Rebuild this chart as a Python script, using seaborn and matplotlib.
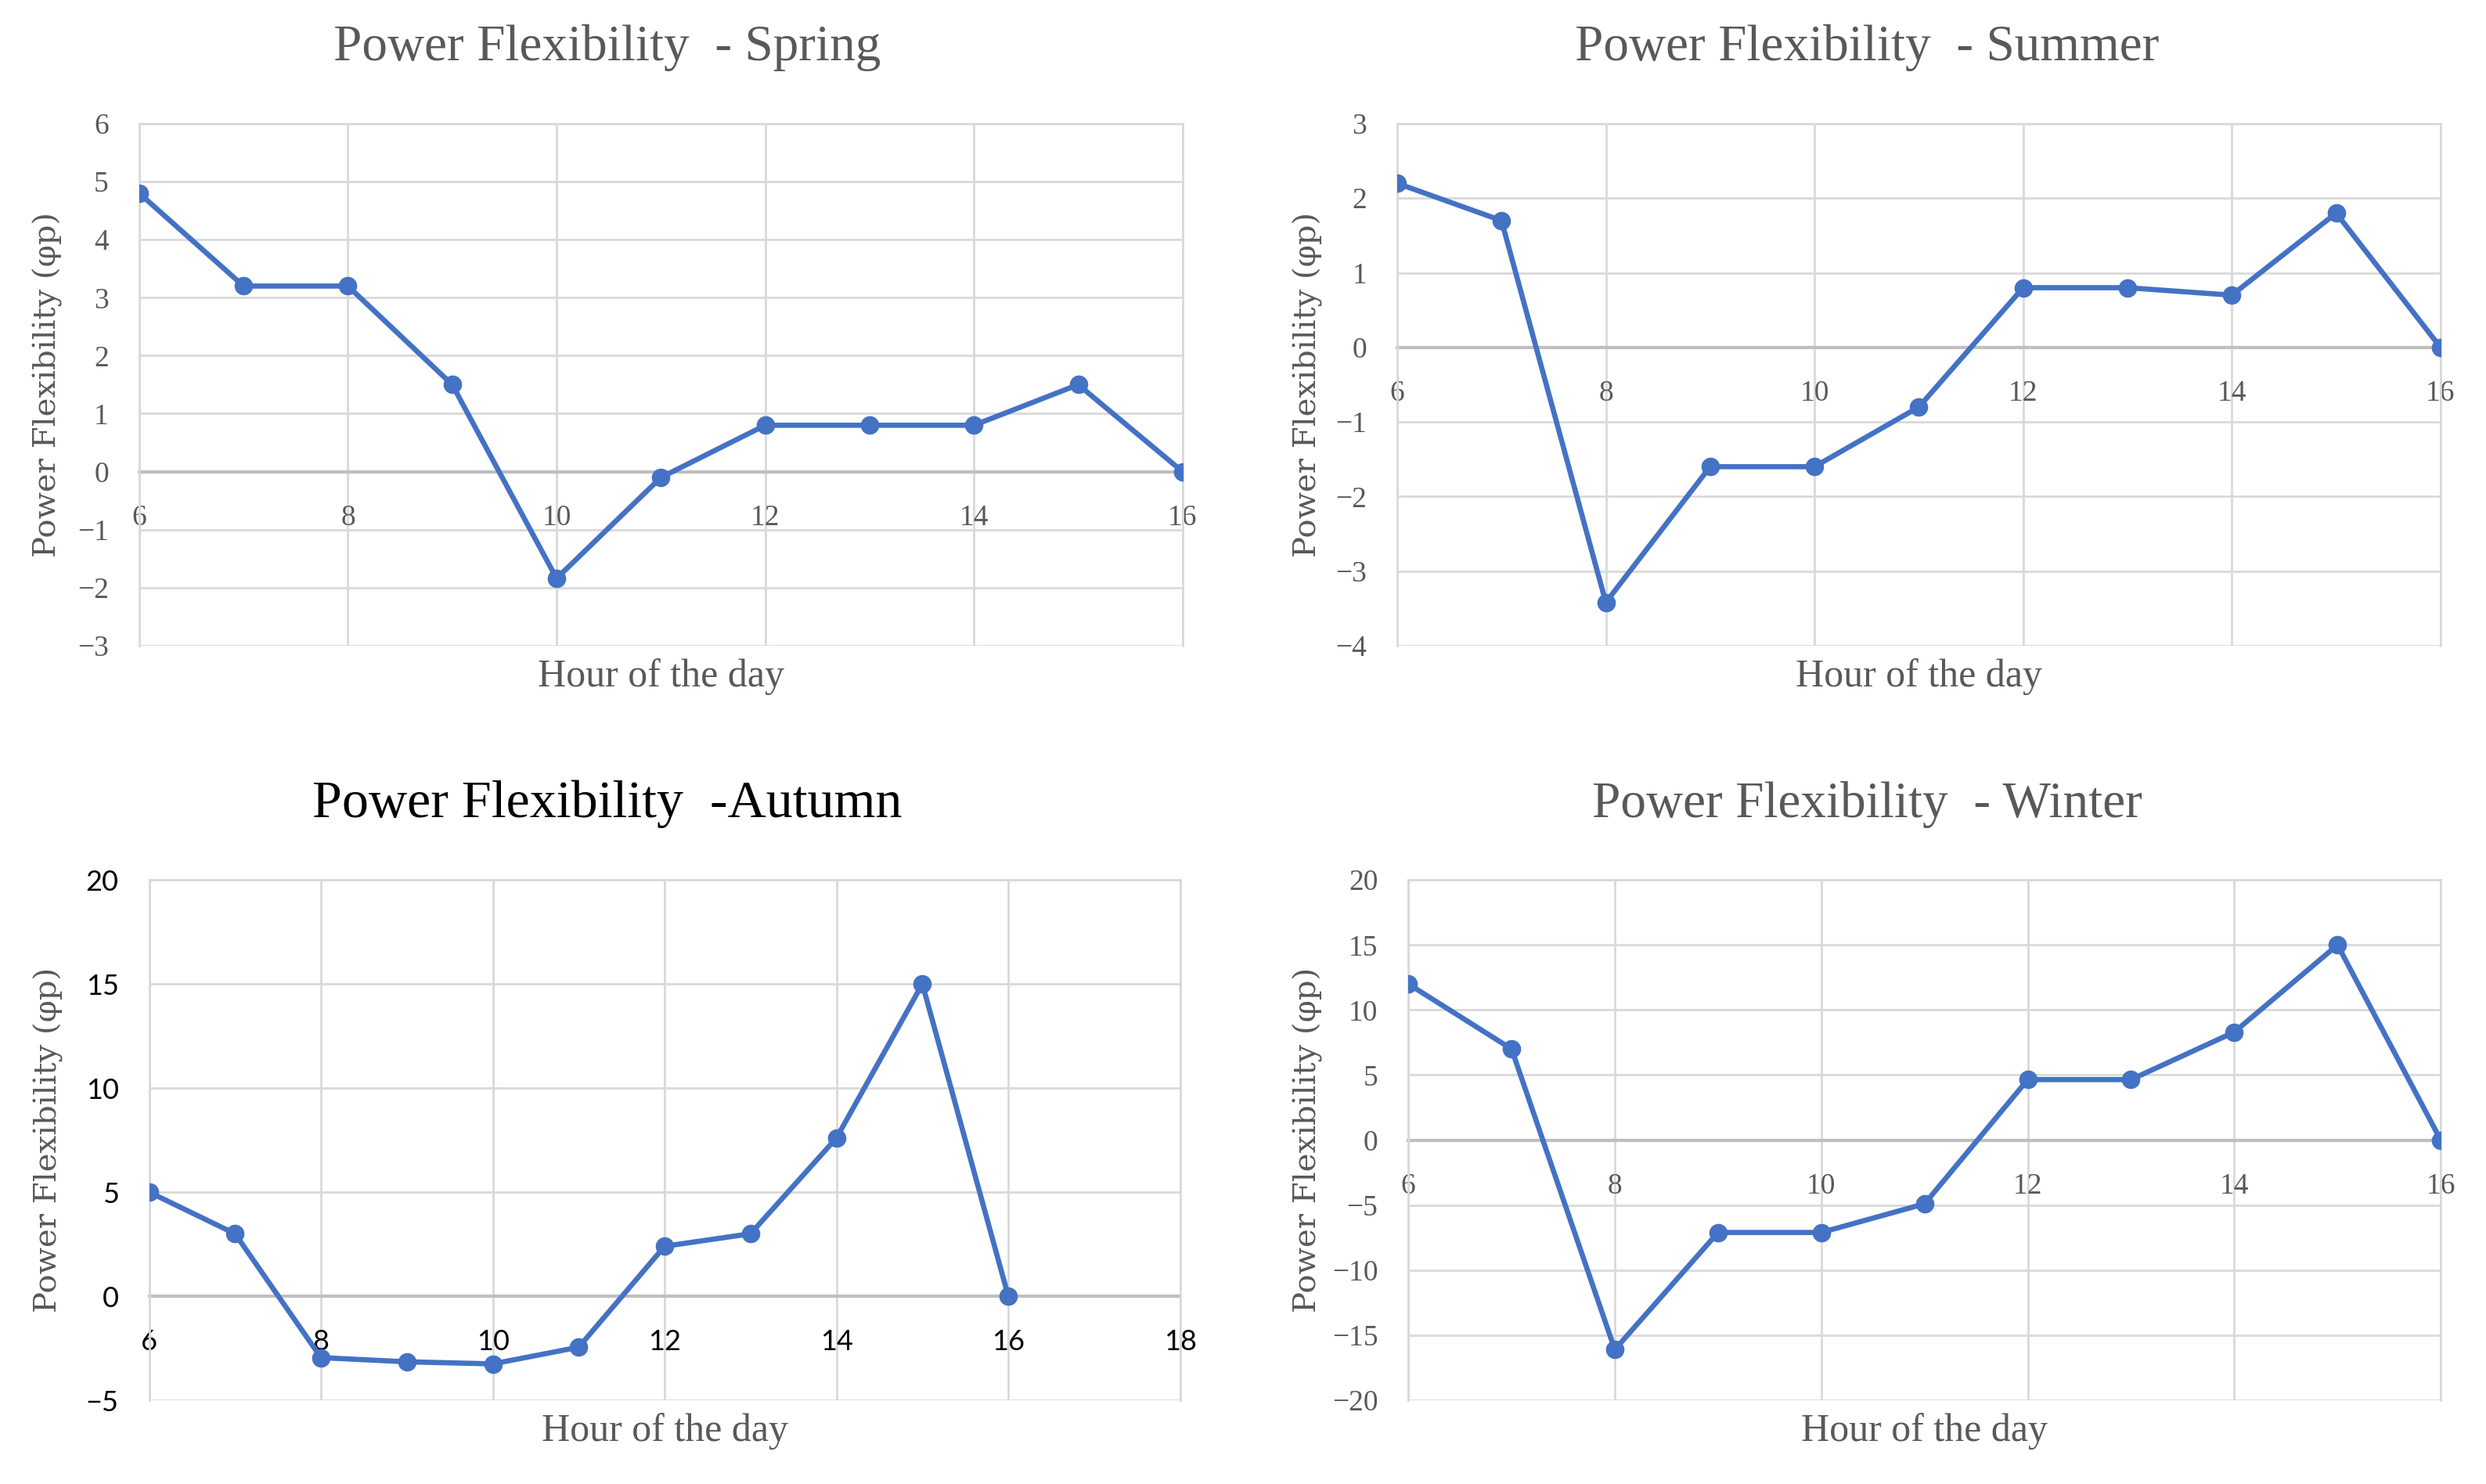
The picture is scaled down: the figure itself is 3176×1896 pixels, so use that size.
import pandas as pd
import seaborn as sns
import matplotlib.pyplot as plt

# values
hours = [6, 7, 8, 9, 10, 11, 12, 13, 14, 15, 16]
spring = [4.8, 3.2, 3.2, 1.5, -1.84, -0.1, 0.8, 0.8, 0.8, 1.5, 0.0]
summer = [2.2, 1.7, -3.42, -1.6, -1.6, -0.8, 0.8, 0.8, 0.7, 1.8, 0.0]
autumn = [5.0, 3.0, -2.95, -3.15, -3.25, -2.45, 2.4, 3.0, 7.6, 15.0, 0.0]
winter = [12.0, 7.0, -16.1, -7.1, -7.1, -4.9, 4.65, 4.65, 8.3, 15.0, 0.0]

titles = ["Power Flexibility  - Spring", "Power Flexibility  - Summer",
          "Power Flexibility  -Autumn", "Power Flexibility  - Winter"]
y_ranges = [(-3, 6, 1), (-4, 3, 1), (-5, 20, 5), (-20, 20, 5)]
x_ranges = [(6, 16), (6, 16), (6, 18), (6, 16)]

sns.set_style("white")
plt.rcParams["font.family"] = ["Liberation Serif", "DejaVu Serif"]

GRAY = "#595959"
BLUE = "#4472C4"
GRID = "#d9d9d9"

fig = plt.figure(figsize=(31.76, 18.96), dpi=100)
# axes boxes [left, bottom, width, height]
boxes = [
    [0.0560, 0.5649, 0.4197, 0.3518],
    [0.5620, 0.5649, 0.4197, 0.3518],
    [0.0600, 0.0564, 0.4147, 0.3507],
    [0.5665, 0.0564, 0.4153, 0.3507],
]
title_pos = [(0.2443, 0.968), (0.751, 0.968), (0.2443, 0.458), (0.751, 0.458)]
ylab_x = [-0.088, -0.0855, -0.098, -0.097]

series = [spring, summer, autumn, winter]

for i, vals in enumerate(series):
    ax = fig.add_axes(boxes[i])
    df = pd.DataFrame({"hour": hours, "flex": vals})
    sns.lineplot(data=df, x="hour", y="flex", ax=ax, color=BLUE, linewidth=4.8,
                 marker="o", markersize=17, markeredgewidth=0, zorder=5)

    lo, hi, step = y_ranges[i]
    ax.set_ylim(lo, hi)
    ax.set_yticks(range(lo, hi + 1, step))
    ax.set_xlim(*x_ranges[i])
    ax.set_xticks(range(x_ranges[i][0], x_ranges[i][1] + 1, 2))

    ax.grid(True, color=GRID, linewidth=2)
    ax.set_axisbelow(True)
    for s in ["left", "top", "right"]:
        ax.spines[s].set_color(GRID)
        ax.spines[s].set_linewidth(2)
    ax.spines["bottom"].set_position(("data", 0))
    ax.spines["bottom"].set_color("#bfbfbf")
    ax.spines["bottom"].set_linewidth(3)
    ax.spines["bottom"].set_zorder(2)

    autumn_style = (i == 2)
    tick_color = "black" if autumn_style else GRAY
    ax.tick_params(axis="both", length=0, colors=tick_color)
    ax.tick_params(axis="x", pad=30)
    ax.tick_params(axis="y", pad=28)
    for lab in ax.get_xticklabels() + ax.get_yticklabels():
        if autumn_style:
            lab.set_family(["Lato", "DejaVu Sans"])
            lab.set_fontsize(26)
        else:
            lab.set_family(["Liberation Serif", "DejaVu Serif"])
            lab.set_fontsize(27)

    ax.set_xlabel("")
    ax.set_ylabel("")
    ax.text(0.5, -0.06, "Hour of the day", transform=ax.transAxes, ha="center",
            va="center", fontsize=36, color=GRAY)
    ax.text(ylab_x[i], 0.5, "Power Flexibility (\u03c6p)", transform=ax.transAxes,
            ha="center", va="center", rotation=90, fontsize=29, color=GRAY,
            family=["DejaVu Serif"])

    fig.text(title_pos[i][0], title_pos[i][1], titles[i], ha="center", va="center",
             fontsize=(49 if autumn_style else 47),
             color=("black" if autumn_style else GRAY))

fig.savefig("out.png", dpi=100, facecolor="white")
